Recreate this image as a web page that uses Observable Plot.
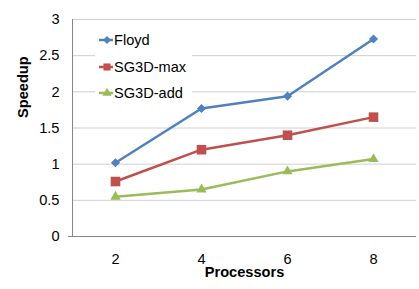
<!DOCTYPE html>
<html>
<head>
<meta charset="utf-8">
<script src="https://cdn.jsdelivr.net/npm/d3@7"></script>
<script src="https://cdn.jsdelivr.net/npm/@observablehq/plot@0.6"></script>
<style>
  body { margin: 0; background: #fff; }
  #wrap { position: relative; width: 419px; height: 289px; font-family: "Liberation Sans", Arial, sans-serif; }
  #legend { position: absolute; left: 95px; top: 27px; width: 97px; height: 71px; background: #fff; }
  .row { position: absolute; left: 0; height: 20px; display: flex; align-items: center; font-size: 14.6px; color: #000; }
  .row svg { display: block; }
</style>
</head>
<body>
<div id="wrap"><div id="legend"></div></div>
<script>
const processors = [2, 4, 6, 8];
const floyd = [1.02, 1.77, 1.94, 2.73];
const sg3dMax = [0.76, 1.20, 1.40, 1.65];
const sg3dAdd = [0.55, 0.65, 0.90, 1.07];
const seriesNames = ["Floyd", "SG3D-max", "SG3D-add"];
const seriesColors = ["#4F81BD", "#C0504D", "#9BBB59"];
const seriesSymbols = ["diamond2", "square", "triangle"];
const seriesR = [4.1, 5.4, 3.8];
const yTicks = [0, 0.5, 1, 1.5, 2, 2.5, 3];
const yTickLabels = ["0", "0.5", "1", "1.5", "2", "2.5", "3"];
const xLabel = "Processors";
const yLabel = "Speedup";

const seriesValues = [floyd, sg3dMax, sg3dAdd];
const rows = [];
seriesNames.forEach((name, i) => {
  processors.forEach((p, j) => rows.push({series: name, x: p, y: seriesValues[i][j]}));
});

const marks = [
  Plot.gridY(yTicks, {stroke: "#cfcfcf", strokeOpacity: 1, strokeWidth: 1}),
  Plot.frame({anchor: "left", stroke: "#868686"}),
  Plot.ruleY([0], {stroke: "#868686", insetLeft: -4}),
  Plot.axisY(yTicks, {tickSize: 0, tickPadding: 13, tickFormat: (d, i) => yTickLabels[yTicks.indexOf(d)], label: null, fontSize: 14.6}),
  Plot.axisX(processors, {tickSize: 0, tickPadding: 17, label: null, fontSize: 14.6}),
  Plot.text([yLabel], {frameAnchor: "left", dx: -49, dy: -10, rotate: -90, fontWeight: "bold", fontSize: 14.6}),
  Plot.text([xLabel], {frameAnchor: "bottom", dy: 40, fontWeight: "bold", fontSize: 14.6})
];
seriesNames.forEach((name, i) => {
  const data = rows.filter(d => d.series === name);
  marks.push(Plot.line(data, {x: "x", y: "y", stroke: seriesColors[i], strokeWidth: 2.5}));
  marks.push(Plot.dot(data, {x: "x", y: "y", symbol: () => seriesSymbols[i], fill: seriesColors[i], stroke: "none", r: seriesR[i]}));
});

const chart = Plot.plot({
  width: 419,
  height: 289,
  marginLeft: 72,
  marginRight: 3,
  marginTop: 19,
  marginBottom: 53,
  style: {fontFamily: "'Liberation Sans', Arial, sans-serif", fontSize: "14.6px", background: "white", color: "black"},
  x: {type: "point", domain: processors, padding: 0.5, axis: null},
  y: {domain: [0, 3], axis: null},
  symbol: {type: "identity"},
  marks
});
const wrap = document.getElementById("wrap");
wrap.insertBefore(chart, wrap.firstChild);

// legend
const legend = document.getElementById("legend");
const d3Symbols = {diamond2: d3.symbolDiamond2, square: d3.symbolSquare, triangle: d3.symbolTriangle};
const legendR = [3.5, 4.0, 3.4];
seriesNames.forEach((name, i) => {
  const row = document.createElement("div");
  row.className = "row";
  row.style.top = (3 + i * 26.5) + "px";
  const svg = d3.create("svg").attr("width", 19).attr("height", 20);
  svg.append("line").attr("x1", 4).attr("x2", 18).attr("y1", 10).attr("y2", 10)
    .attr("stroke", seriesColors[i]).attr("stroke-width", 2.5);
  svg.append("path").attr("transform", "translate(12,10)")
    .attr("d", d3.symbol(d3Symbols[seriesSymbols[i]], Math.PI * legendR[i] * legendR[i])())
    .attr("fill", seriesColors[i]);
  row.appendChild(svg.node());
  const span = document.createElement("span");
  span.textContent = name;
  row.appendChild(span);
  legend.appendChild(row);
});
</script>
</body>
</html>
